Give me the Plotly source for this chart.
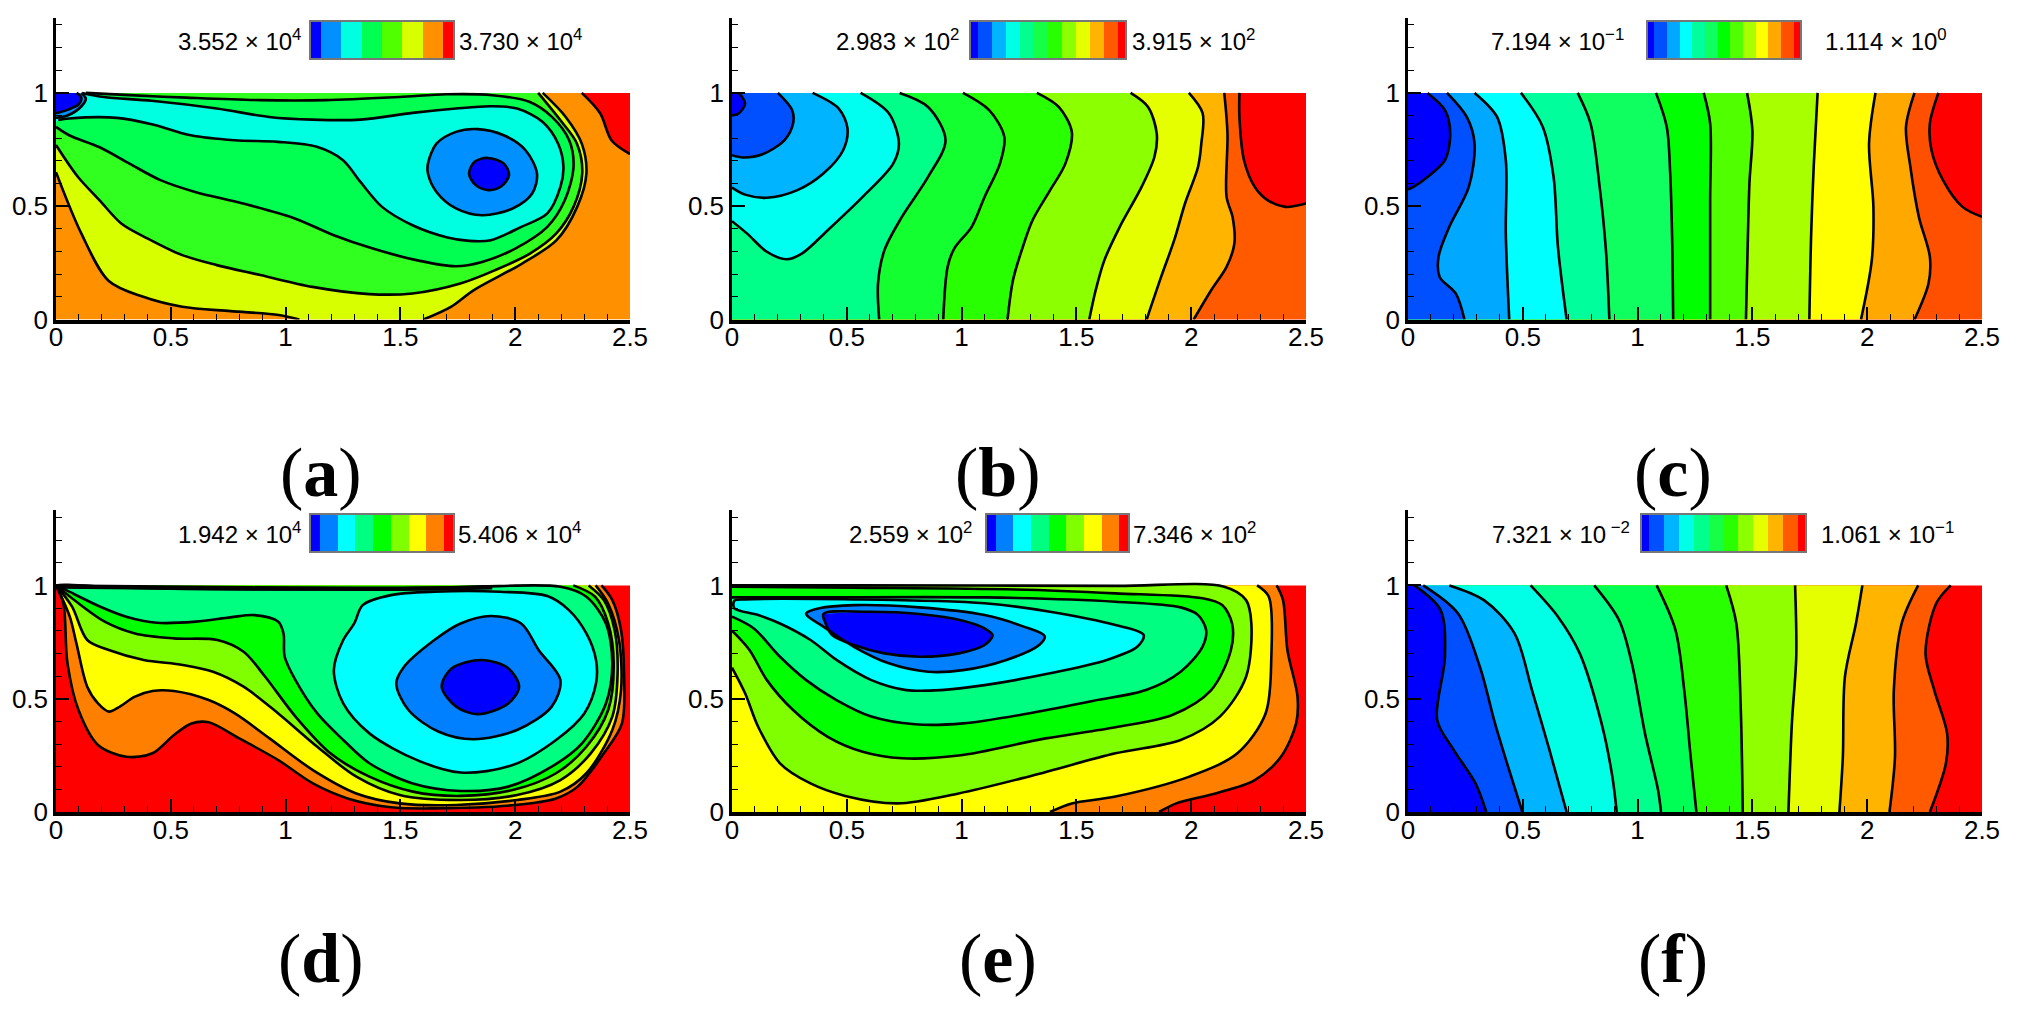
import plotly.graph_objects as go

W, H = 2020, 1021

# ---------- labels ----------
x_ticks = [0, 0.5, 1, 1.5, 2, 2.5]
x_tick_labels = ["0", "0.5", "1", "1.5", "2", "2.5"]
y_ticks = [0, 0.5, 1]
y_tick_labels = ["0", "0.5", "1"]
panel_names = ["a", "b", "c", "d", "e", "f"]
low_labels = ["3.552 × 10<sup>4</sup>", "2.983 × 10<sup>2</sup>", "7.194 × 10<sup>−1</sup>",
              "1.942 × 10<sup>4</sup>", "2.559 × 10<sup>2</sup>", "7.321 × 10<sup> −2</sup>"]
high_labels = ["3.730 × 10<sup>4</sup>", "3.915 × 10<sup>2</sup>", "1.114 × 10<sup>0</sup>",
               "5.406 × 10<sup>4</sup>", "7.346 × 10<sup>2</sup>", "1.061 × 10<sup>−1</sup>"]

# ---------- colour bars ----------
bar_a = ["#0000FF", "#0090FF", "#00FFE0", "#00FF50", "#50FF00", "#D8FF00", "#FF9000", "#FF0000"]
bar_b = ["#0000FF", "#0050FF", "#00B4FF", "#00FFE6", "#00FF8C", "#14FF46", "#28FF00", "#8CFF00",
         "#E6FF00", "#FFB400", "#FF5A00", "#FF0000"]
bar_c = ["#0000FF", "#0050FF", "#00A8FF", "#00FFFF", "#00FF9C", "#10FF60", "#00FF00", "#50FF00",
         "#A8FF00", "#FFFF00", "#FFA800", "#FF5000", "#FF0000"]
bar_d = ["#0000FF", "#0080FF", "#00FFFF", "#00FF80", "#00FF00", "#80FF00", "#FFFF00", "#FF8000", "#FF0000"]
bar_e = bar_d
bar_f = bar_b

# ---------- contour lines, panel a ----------
a_red = [(2.29,1),(2.37,.91),(2.42,.79),(2.5,.73)]
a_y_left = [(0,.65),(.11,.38),(.23,.17),(.38,.10),(.55,.056),(.76,.037),(.97,.02),(1.06,0)]
a_y_right = [(1.6,0),(1.72,.056),(1.82,.13),(2.03,.247),(2.18,.35),(2.27,.497),(2.31,.644),(2.29,.776),(2.22,.894),(2.12,1)]
a_g1 = [(0,.77),(.095,.63),(.19,.526),(.284,.424),(.40,.357),(.55,.284),(.70,.24),(.89,.196),(1.117,.144),(1.364,.112),
        (1.553,.115),(1.761,.159),(1.913,.218),(2.064,.291),(2.178,.379),(2.254,.497),(2.292,.644),(2.269,.776),(2.197,.879),(2.10,1)]
a_g2 = [(0,.85),(.057,.813),(.19,.76),(.32,.688),(.455,.615),(.606,.563),(.814,.512),(1.04,.446),(1.21,.372),(1.38,.313),
        (1.57,.262),(1.74,.235),(1.856,.254),(2.0,.313),(2.14,.409),(2.216,.526),(2.254,.674),(2.235,.791),(2.16,.894),(2.064,.96),
        (1.9,.99),(1.70,.994),(1.496,.982),(1.174,.968),(.89,.968),(.568,.979),(.32,.99),(.13,1)]
a_c = [(.01,.88),(.057,.887),(.265,.89),(.417,.862),(.587,.813),(.777,.791),(.966,.784),(1.136,.762),(1.25,.703),(1.326,.607),
       (1.42,.497),(1.553,.416),(1.705,.362),(1.8,.347),(1.894,.35),(2.027,.409),(2.14,.468),(2.197,.585),(2.21,.674),(2.187,.776),
       (2.12,.872),(2.008,.931),(1.894,.941),(1.742,.931),(1.553,.912),(1.326,.882),(1.117,.882),(.928,.894),(.70,.931),(.417,.965),
       (.208,.982),(.114,1)]
a_mb = [(0,.89),(.05,.9),(.11,.94),(.13,.975),(.11,1)]
a_db = [(0,.91),(.05,.925),(.1,.95),(.11,.98),(.09,1)]
a_blue = [(1.62,.688),(1.657,.776),(1.742,.828),(1.837,.84),(1.95,.813),(2.045,.747),(2.095,.644),(2.074,.556),(1.989,.49),
          (1.856,.46),(1.742,.49),(1.657,.563),(1.62,.644),(1.62,.688)]
a_core = [(1.799,.644),(1.823,.696),(1.88,.713),(1.951,.688),(1.973,.637),(1.94,.588),(1.884,.571),(1.828,.593),(1.799,.644)]

# ---------- contour lines, panel b ----------
b1 = [(2.21,1),(2.21,.894),(2.23,.703),(2.277,.585),(2.334,.526),(2.41,.497),(2.5,.512)]
b2 = [(2.144,1),(2.158,.82),(2.154,.541),(2.18,.453),(2.188,.335),(2.154,.232),(2.087,.129),(2.011,0)]
b3 = [(1.99,1),(2.05,.91),(2.044,.776),(2.03,.674),(1.973,.512),(1.926,.35),(1.869,.188),(1.806,0)]
b4 = [(1.736,1),(1.812,.938),(1.85,.82),(1.84,.718),(1.784,.585),(1.689,.409),(1.622,.262),(1.584,.129),(1.556,0)]
b5 = [(1.328,1),(1.423,.938),(1.48,.828),(1.452,.688),(1.385,.57),(1.309,.438),(1.262,.306),(1.224,.174),(1.2,0)]
b6 = [(1.006,1),(1.12,.924),(1.186,.806),(1.167,.688),(1.10,.541),(1.044,.409),(.968,.313),(.939,.232),(.92,0)]
b7 = [(.73,1),(.854,.938),(.93,.791),(.854,.629),(.74,.453),(.664,.306),(.636,.159),(.641,0)]
b8 = [(.56,1),(.683,.91),(.727,.776),(.702,.688),(.569,.541),(.417,.394),(.304,.291),(.237,.266),(.152,.299),(.066,.379),(0,.434)]
b9 = [(.351,1),(.465,.931),(.503,.843),(.484,.747),(.398,.644),(.285,.571),(.152,.537),(.057,.551),(0,.582)]
b10 = [(.2,1),(.262,.924),(.266,.865),(.228,.791),(.133,.729),(.047,.715),(0,.725)]
b11 = [(.03,1),(.057,.953),(.03,.91),(0,.9)]

# ---------- contour lines, panel c ----------
c1 = [(2.31,1),(2.273,.865),(2.28,.747),(2.33,.615),(2.415,.497),(2.5,.453)]
c2 = [(2.206,1),(2.169,.85),(2.188,.674),(2.225,.453),(2.273,.276),(2.267,.159),(2.206,0)]
c3 = [(2.036,1),(2.008,.776),(2.027,.497),(2.02,.262),(1.973,0)]
c4 = [(1.784,1),(1.767,.674),(1.756,.379),(1.748,0)]
c5 = [(1.477,1),(1.5,.835),(1.487,.6),(1.479,.306),(1.472,0)]
c6 = [(1.288,1),(1.316,.865),(1.316,.526),(1.316,0)]
c7 = [(1.08,1),(1.127,.85),(1.142,.644),(1.15,.379),(1.155,0)]
c8 = [(.739,1),(.795,.865),(.833,.6),(.862,.306),(.877,0)]
c9 = [(.492,1),(.587,.85),(.634,.629),(.653,.32),(.691,0)]
c10 = [(.29,1),(.388,.894),(.426,.703),(.426,.379),(.441,0)]
c11 = [(.17,1),(.256,.894),(.29,.776),(.265,.585),(.18,.409),(.133,.276),(.138,.188),(.208,.115),(.246,0)]
c12 = [(.085,1),(.161,.924),(.184,.82),(.161,.703),(.085,.629),(.01,.578),(0,.575)]

# ---------- contour lines, panel d ----------
d1 = [(0,1),(.032,.92),(.05,.656),(.098,.45),(.183,.296),(.306,.244),(.42,.259),(.514,.34),(.59,.391),(.665,.396),(.798,.325),
      (.968,.229),(1.119,.126),(1.27,.06),(1.459,.021),(1.648,.016),(2.0,.031),(2.178,.06),(2.272,.112),(2.386,.259),(2.465,.391),
      (2.474,.612),(2.461,.803),(2.423,.935),(2.376,1)]
d2 = [(0,1),(.06,.862),(.089,.744),(.136,.553),(.183,.479),(.23,.443),(.278,.465),(.344,.509),(.42,.534),(.514,.534),(.665,.494),
      (.779,.435),(.93,.325),(1.119,.185),(1.308,.082),(1.497,.038),(1.743,.031),(2.008,.053),(2.197,.09),(2.31,.171),(2.423,.362),
      (2.461,.538),(2.452,.759),(2.404,.921),(2.35,1)]
d3 = [(0,1),(.07,.906),(.136,.759),(.23,.715),(.382,.671),(.552,.649),(.684,.619),(.817,.553),(.968,.435),(1.138,.288),(1.308,.156),
      (1.497,.075),(1.762,.053),(2.008,.075),(2.197,.141),(2.329,.259),(2.423,.421),(2.446,.612),(2.433,.803),(2.386,.935),(2.32,1)]
d4 = [(0,1),(.098,.921),(.212,.84),(.344,.788),(.514,.766),(.703,.759),(.817,.707),(.911,.597),(1.043,.421),(1.195,.259),(1.365,.156),
      (1.554,.09),(1.762,.071),(1.989,.097),(2.178,.171),(2.31,.288),(2.405,.45),(2.429,.656),(2.405,.832),(2.348,.95),(2.253,1)]
d5 = [(0,1),(.042,.98),(.193,.906),(.306,.862),(.439,.835),(.609,.84),(.76,.859),(.864,.869),(.968,.84),(.991,.788),(.996,.685),
      (1.043,.582),(1.138,.435),(1.251,.318),(1.365,.215),(1.554,.126),(1.762,.093),(1.97,.112),(2.159,.2),(2.291,.303),(2.395,.479),
      (2.423,.656),(2.395,.832),(2.31,.95),(2.197,.994),(1.8,.993),(1.3,.983),(.7,.983),(.3,.99),(0,1)]
d6 = [(1.336,.913),(1.459,.957),(1.648,.972),(1.932,.972),(2.14,.953),(2.234,.891),(2.31,.788),(2.352,.671),(2.352,.568),(2.301,.435),
      (2.178,.318),(1.989,.207),(1.762,.174),(1.573,.229),(1.365,.347),(1.251,.479),(1.21,.626),(1.251,.759),(1.299,.832),(1.336,.913)]
d7 = [(1.482,.568),(1.516,.641),(1.648,.759),(1.762,.832),(1.894,.865),(2.026,.832),(2.102,.715),(2.197,.582),(2.159,.465),(2.008,.362),
      (1.818,.321),(1.667,.354),(1.535,.45),(1.482,.568)]
d8 = [(1.68,.553),(1.724,.634),(1.856,.671),(1.97,.634),(2.017,.553),(1.97,.479),(1.837,.432),(1.743,.465),(1.68,.553)]
d_top = [(0,.995),(.7,.988),(1.3,.985),(1.6,.986),(1.9,.992)]

# ---------- contour lines, panel e ----------
e1 = [(2.372,1),(2.4,.935),(2.419,.715),(2.463,.509),(2.457,.391),(2.391,.244),(2.277,.141),(2.106,.082),(1.935,.038),(1.86,0)]
e2 = [(2.287,1),(2.338,.95),(2.349,.685),(2.324,.435),(2.201,.259),(1.992,.156),(1.67,.068),(1.48,.038),(1.385,0)]
e3 = [(0,.637),(.057,.524),(.114,.376),(.209,.215),(.342,.126),(.493,.071),(.721,.038),(.987,.082),(1.29,.156),(1.67,.259),(1.954,.318),
      (2.125,.421),(2.239,.597),(2.262,.832),(2.239,.935),(2.144,.994),(1.67,.998),(.53,1),(0,1)]
e4 = [(0,.8),(.076,.715),(.152,.582),(.266,.45),(.417,.332),(.569,.266),(.74,.237),(.987,.249),(1.366,.325),(1.67,.374),(1.917,.428),
      (2.087,.538),(2.173,.715),(2.178,.832),(2.135,.913),(2.049,.943),(1.67,.965),(1.233,.982),(.531,.99),(0,.994)]
e5 = [(0,.862),(.095,.81),(.209,.685),(.323,.582),(.455,.494),(.607,.421),(.797,.387),(1.006,.391),(1.29,.435),(1.575,.491),(1.803,.538),
      (1.954,.619),(2.049,.729),(2.065,.803),(2.03,.869),(1.954,.903),(1.67,.928),(1.1,.947),(.342,.947),(0,.947)]
e6 = [(.01,.899),(.114,.869),(.209,.832),(.342,.759),(.455,.671),(.607,.582),(.759,.538),(.911,.538),(1.1,.56),(1.385,.612),(1.632,.671),
      (1.765,.729),(1.793,.781),(1.67,.825),(1.385,.884),(1.1,.921),(.531,.938),(.057,.938),(.01,.932),(.01,.899)]
e7 = [(.323,.876),(.38,.899),(.531,.913),(.816,.903),(1.1,.869),(1.271,.818),(1.362,.776),(1.338,.737),(1.195,.671),(1.006,.626),(.854,.619),
      (.683,.656),(.531,.729),(.398,.818),(.332,.862),(.323,.876)]
e8 = [(.398,.874),(.588,.884),(.816,.874),(1.006,.844),(1.1,.81),(1.135,.781),(1.1,.737),(.987,.7),(.816,.685),(.664,.7),(.531,.737),
      (.436,.781),(.408,.832),(.398,.874)]

# ---------- contour lines, panel f ----------
f1 = [(2.364,1),(2.301,.921),(2.254,.7),(2.292,.538),(2.348,.347),(2.343,.215),(2.273,0)]
f2 = [(2.222,1),(2.15,.832),(2.116,.538),(2.121,.244),(2.097,0)]
f3 = [(1.979,1),(1.951,.832),(1.903,.597),(1.894,.244),(1.879,0)]
f4 = [(1.686,1),(1.691,.685),(1.672,.391),(1.657,0)]
f5 = [(1.386,1),(1.43,.832),(1.449,.465),(1.458,0)]
f6 = [(1.083,1),(1.165,.803),(1.203,.538),(1.231,.244),(1.256,0)]
f7 = [(.811,1),(.919,.847),(.975,.656),(1.032,.347),(1.089,.097),(1.102,0)]
f8 = [(.534,1),(.653,.862),(.748,.7),(.843,.391),(.89,.156),(.909,0)]
f9 = [(.18,1),(.331,.935),(.464,.788),(.54,.538),(.616,.274),(.691,0)]
f10 = [(.066,1),(.218,.876),(.313,.641),(.379,.391),(.436,.2),(.498,0)]
f11 = [(.028,1),(.142,.891),(.161,.685),(.127,.406),(.199,.274),(.294,.126),(.341,0)]

# Domain-edge pieces are tuples (filled, not stroked); contour lines are lists (filled and stroked).
BL, TL, BR, TR = (0, 0), (0, 1), (2.5, 0), (2.5, 1)

layers_a = [
    ("#FF9000", [(BL, BR, TR, TL)]),
    ("#FF0000", [a_red, (TR,)]),
    ("#D8FF00", [a_y_left, a_y_right, (TL,)]),
    ("#30FF20", [a_g1, (TL,)]),
    ("#00FF50", [a_g2, (TL,)]),
    ("#00FFE0", [a_c, (TL, (0, .87))]),
    ("#0090FF", [a_mb, (TL,)]),
    ("#0000FF", [a_db, (TL,)]),
    ("#0090FF", [a_blue]),
    ("#0000FF", [a_core]),
]
layers_b = [("#FF0000", [(BL, BR, TR, TL)]), ("#FF5A00", [b1, (BR, BL, TL)]), ("#FFB400", [b2, (BL, TL)]),
            ("#E6FF00", [b3, (BL, TL)]), ("#8CFF00", [b4, (BL, TL)]), ("#28FF00", [b5, (BL, TL)]),
            ("#14FF30", [b6, (BL, TL)]), ("#00FF88", [b7, (BL, TL)]), ("#00FFF0", [b8, (TL,)]),
            ("#00B4FF", [b9, (TL,)]), ("#0050FF", [b10, (TL,)]), ("#0000FF", [b11, (TL,)])]
layers_c = [("#FF0000", [(BL, BR, TR, TL)]), ("#FF5000", [c1, (BR, BL, TL)])]
for col, curve in zip(bar_c[-3:0:-1], [c2, c3, c4, c5, c6, c7, c8, c9, c10, c11]):
    layers_c.append((col, [curve, (BL, TL)]))
layers_c.append(("#0000FF", [c12, (TL,)]))
layers_d = [("#FF0000", [(BL, BR, TR, TL)]), ("#FF8000", [d1]), ("#FFFF00", [d2]), ("#80FF00", [d3]),
            ("#00FF00", [d4]), ("#00FF80", [d5]), ("#00FFFF", [d6]), ("#0080FF", [d7]), ("#0000FF", [d8])]
layers_e = [("#FF0000", [(BL, BR, TR, TL)]), ("#FF8000", [e1, (BL, TL)]), ("#FFFF00", [e2, (BL, TL)]),
            ("#80FF00", [e3]), ("#00FF00", [e4]), ("#00FF80", [e5]), ("#00FFFF", [e6]),
            ("#0080FF", [e7]), ("#0000FF", [e8])]
layers_f = [("#FF0000", [(BL, BR, TR, TL)]), ("#FF5A00", [f1, (BR, BL, TL)])]
for col, curve in zip(["#FFB400", "#E6FF00", "#90FF00", "#28FF00", "#00FF55", "#00FF8C", "#00FFE6", "#00B4FF", "#0050FF"],
                      [f2, f3, f4, f5, f6, f7, f8, f9, f10]):
    layers_f.append((col, [curve, (BL, TL)]))
layers_f.append(("#0000FF", [f11, (BL, TL)]))
panel_layers = [layers_a, layers_b, layers_c, layers_d, layers_e, layers_f]
panel_bars = [bar_a, bar_b, bar_c, bar_d, bar_e, bar_f]
thick_lines = {3: [d_top]}

# ---------- page layout, pixels ----------
col_px = [(56, 630), (732, 1306), (1408, 1982)]
row_px = [(17.5, 319.5), (509.5, 812)]
bar_x_px = [(311, 453), (971, 1125), (1648, 1800), (311, 453), (987, 1128), (1642, 1805)]
bar_y_px = [(22, 58), (22, 58), (22, 58), (515, 551), (515, 551), (515, 551)]
low_right_px = [303, 961, 1626, 303, 974, 1632]
high_left_px = [457, 1130, 1823, 456, 1131, 1819]
caption_x_px = [321, 998, 1673, 321, 998, 1673]
caption_y_px = [473, 473, 473, 958, 958, 958]


def fill_xy(segments):
    xs, ys = [], []
    for seg in segments:
        if isinstance(seg, tuple):
            pts = [p for p in seg for _ in (0, 1)]
        else:
            pts = [seg[0]] + list(seg) + [seg[-1]]
        xs += [p[0] for p in pts]
        ys += [p[1] for p in pts]
    return xs + xs[:1], ys + ys[:1]


fig = go.Figure()
annotations = []
layout = {}
for i, name in enumerate(panel_names):
    r, c = divmod(i, 3)
    ax_id, bar_id = 2 * i + 1, 2 * i + 2
    xref, yref = f"x{ax_id}", f"y{ax_id}"
    for col, segments in panel_layers[i]:
        xs, ys = fill_xy(segments)
        fig.add_trace(go.Scatter(x=xs, y=ys, mode="lines", fill="toself", fillcolor=col, hoverinfo="skip",
                                 line=dict(width=0, color=col, shape="spline", smoothing=0.9, simplify=False),
                                 xaxis=xref, yaxis=yref, showlegend=False))
    for col, segments in panel_layers[i]:
        for seg in segments:
            if isinstance(seg, list):
                fig.add_trace(go.Scatter(x=[p[0] for p in seg], y=[p[1] for p in seg], mode="lines", hoverinfo="skip",
                                         line=dict(width=2.6, color="#000", shape="spline", smoothing=0.9, simplify=False),
                                         xaxis=xref, yaxis=yref, showlegend=False))
    for seg in thick_lines.get(i, []):
        fig.add_trace(go.Scatter(x=[p[0] for p in seg], y=[p[1] for p in seg], mode="lines", hoverinfo="skip",
                                 line=dict(width=4.5, color="#000", shape="spline", simplify=False),
                                 xaxis=xref, yaxis=yref, showlegend=False))
    left, right = col_px[c]
    top, bottom = row_px[r]
    ymax = (bottom - top) / 226.6
    tick = dict(ticks="inside", ticklen=13, tickwidth=2, tickcolor="#000", showgrid=False, zeroline=False,
                automargin=False, showline=True, linecolor="#000",
                tickfont=dict(family="Liberation Sans", size=26, color="#000"),
                minor=dict(ticks="inside", ticklen=6, tickwidth=1, tickcolor="#000", dtick=0.1, tick0=0, showgrid=False))
    layout[f"xaxis{ax_id}"] = dict(domain=[left / W, right / W], range=[0, 2.5], anchor=yref, tickmode="array",
                                   tickvals=x_ticks, ticktext=x_tick_labels, linewidth=3.5, ticklabelstandoff=-8, **tick)
    layout[f"yaxis{ax_id}"] = dict(domain=[1 - bottom / H, 1 - top / H], range=[0, ymax], anchor=xref, tickmode="array",
                                   tickvals=y_ticks, ticktext=y_tick_labels, linewidth=2.5, **tick)
    # colour bar: end swatches are half width
    cols = panel_bars[i]
    n = len(cols)
    edges = [0, 0.5] + [k + 0.5 for k in range(1, n - 1)] + [n - 1]
    scale = []
    for k, col in enumerate(cols):
        scale += [[k / n, col], [(k + 1) / n, col]]
    fig.add_trace(go.Heatmap(x=edges, y=[0, 1], z=[list(range(n))], zmin=-0.5, zmax=n - 0.5, colorscale=scale,
                             showscale=False, hoverinfo="skip", xaxis=f"x{bar_id}", yaxis=f"y{bar_id}"))
    bx0, bx1 = bar_x_px[i]
    by0, by1 = bar_y_px[i]
    bar_axis = dict(showticklabels=False, ticks="", showgrid=False, zeroline=False, showline=True, automargin=False,
                    linecolor="#777", linewidth=1.5, mirror=True)
    layout[f"xaxis{bar_id}"] = dict(domain=[bx0 / W, bx1 / W], range=[0, n - 1], anchor=f"y{bar_id}", **bar_axis)
    layout[f"yaxis{bar_id}"] = dict(domain=[1 - by1 / H, 1 - by0 / H], range=[0, 1], anchor=f"x{bar_id}", **bar_axis)
    cy = 1 - ((by0 + by1) / 2) / H
    label_font = dict(family="Liberation Sans", size=24, color="#000")
    annotations.append(dict(x=low_right_px[i] / W, y=cy, xref="paper", yref="paper", text=low_labels[i],
                            xanchor="right", yanchor="middle", showarrow=False, font=label_font))
    annotations.append(dict(x=high_left_px[i] / W, y=cy, xref="paper", yref="paper", text=high_labels[i],
                            xanchor="left", yanchor="middle", showarrow=False, font=label_font))
    annotations.append(dict(x=caption_x_px[i] / W, y=1 - caption_y_px[i] / H, xref="paper", yref="paper",
                            text=f"(<b>{name}</b>)", xanchor="center", yanchor="middle", showarrow=False,
                            font=dict(family="Liberation Serif", size=70, color="#000")))

fig.update_layout(width=W, height=H, margin=dict(l=0, r=0, t=0, b=0), paper_bgcolor="#fff", plot_bgcolor="#fff",
                  showlegend=False, annotations=annotations, **layout)
fig.write_html("out.html", config=dict(displayModeBar=False),
               post_script="document.body.style.margin='0';document.body.style.overflow='hidden';")
